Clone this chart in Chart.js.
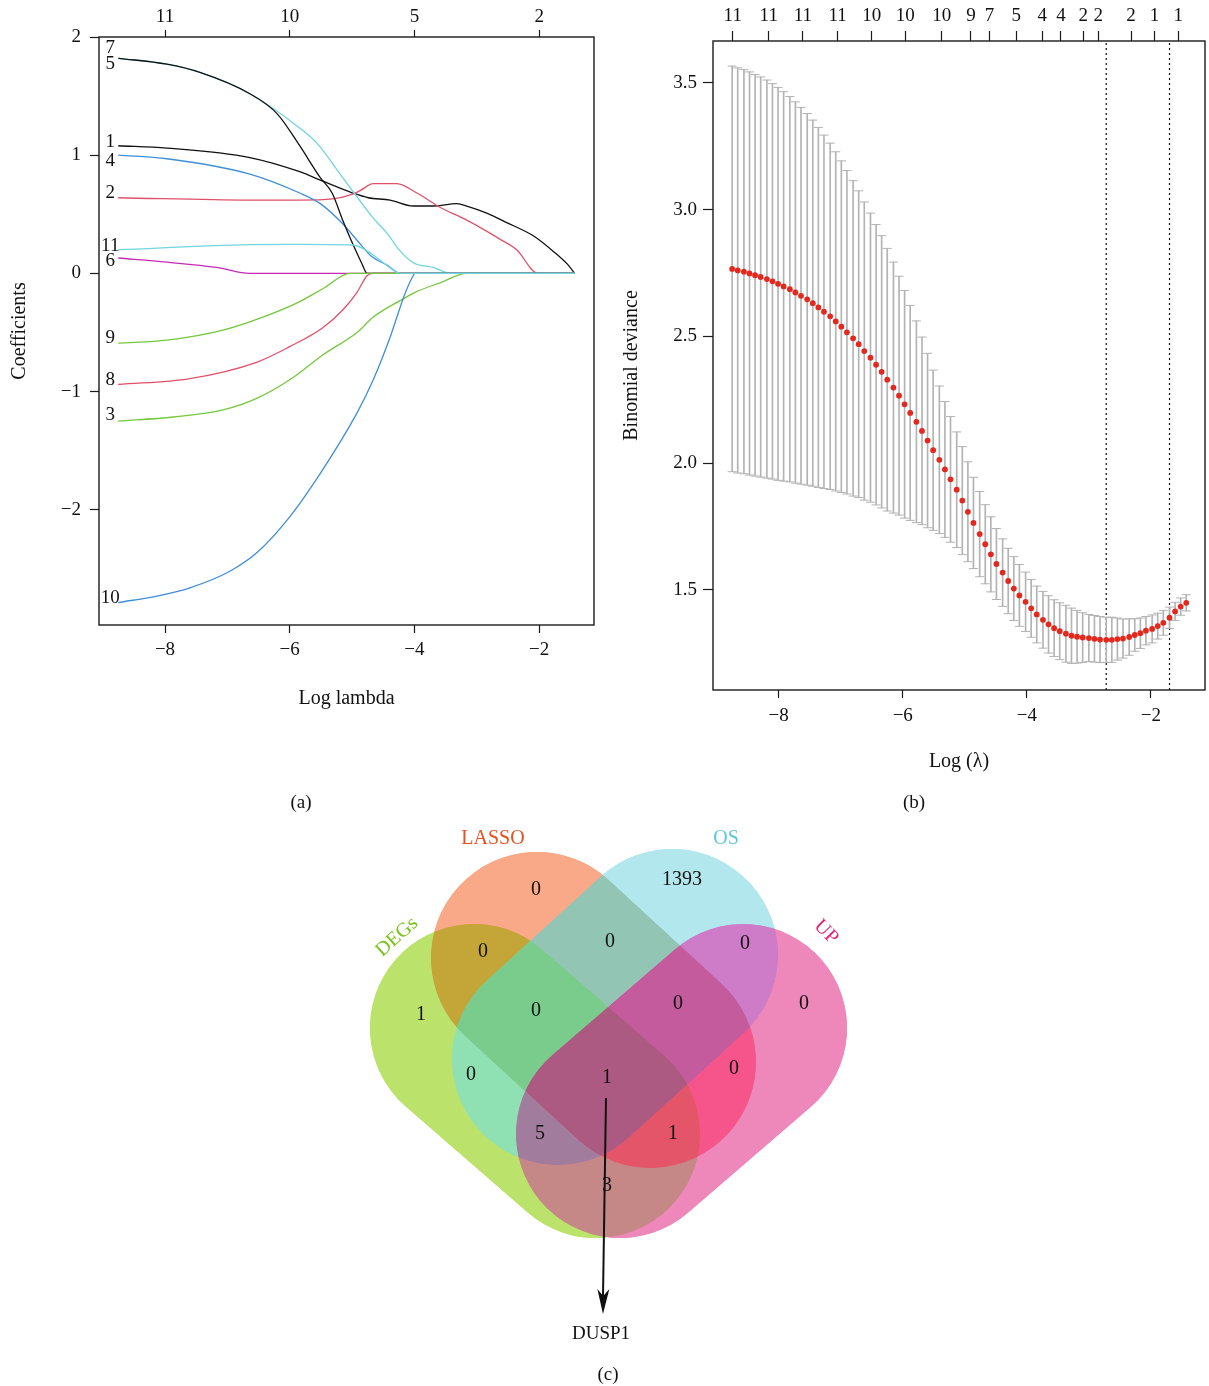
<!DOCTYPE html>
<html>
<head>
<meta charset="utf-8">
<script src="https://cdn.jsdelivr.net/npm/chart.js@4.4.1/dist/chart.umd.min.js"></script>
<style>
  html, body { margin: 0; padding: 0; background: #fff; }
  #page { position: relative; width: 1209px; height: 1386px; overflow: hidden;
          font-family: 'Liberation Serif', 'Times New Roman', serif; color: #111; }
  canvas { position: absolute; }
  .cap { position: absolute; font-size: 19px; transform: translate(-50%, -50%); white-space: nowrap; }
</style>
</head>
<body>
<div id="page">
  <canvas id="chartA" width="604" height="790" style="left:0;top:0"></canvas>
  <canvas id="chartB" width="605" height="790" style="left:604px;top:0"></canvas>
  <canvas id="chartC" width="620" height="576" style="left:300px;top:810px"></canvas>
  <div class="cap" style="left:301px;top:802px">(a)</div>
  <div class="cap" style="left:914px;top:802px">(b)</div>
  <div class="cap" style="left:608px;top:1374px">(c)</div>
</div>
<script>
// ---------------- (a) LASSO coefficient paths: [log lambda, coefficient] ----------------
const coefVars = ['1', '2', '3', '4', '5', '6', '7', '8', '9', '10', '11'];
const path1 = [[-8.75,1.08],[-7.97,1.06],[-6.64,0.98],[-5.84,0.86],[-5.47,0.78],[-4.99,0.68],[-4.74,0.64],[-4.39,0.62],[-4.02,0.57],[-3.70,0.57],[-3.32,0.59],[-3.16,0.57],[-2.84,0.51],[-2.52,0.43],[-2.10,0.32],[-1.78,0.19],[-1.55,0.08],[-1.43,0]];
const path2 = [[-8.75,0.64],[-6.64,0.62],[-5.84,0.62],[-5.31,0.63],[-4.99,0.67],[-4.87,0.70],[-4.66,0.76],[-4.28,0.76],[-3.96,0.68],[-3.59,0.56],[-3.16,0.45],[-2.63,0.29],[-2.36,0.20],[-2.02,0],[-1.43,0]];
const path3 = [[-8.75,-1.25],[-7.87,-1.215],[-7.07,-1.155],[-6.52,-1.055],[-6.00,-0.90],[-5.47,-0.69],[-4.92,-0.50],[-4.66,-0.37],[-4.23,-0.23],[-3.99,-0.16],[-3.59,-0.08],[-3.16,0],[-1.43,0]];
const path4 = [[-8.75,1.00],[-7.97,0.97],[-6.64,0.84],[-5.84,0.68],[-5.51,0.59],[-5.15,0.42],[-4.92,0.28],[-4.68,0.14],[-4.44,0.07],[-4.23,0],[-1.43,0]];
const path5 = [[-8.75,1.82],[-7.97,1.77],[-7.44,1.70],[-6.64,1.52],[-5.84,1.23],[-5.56,1.10],[-5.15,0.81],[-4.91,0.64],[-4.68,0.48],[-4.44,0.34],[-4.23,0.19],[-4.02,0.09],[-3.70,0.05],[-3.40,0],[-1.43,0]];
const path6 = [[-8.75,0.13],[-7.97,0.095],[-7.17,0.05],[-6.64,0],[-1.43,0]];
const path7 = [[-8.75,1.82],[-7.97,1.77],[-7.44,1.70],[-6.64,1.52],[-6.20,1.35],[-5.84,1.08],[-5.51,0.81],[-5.32,0.68],[-5.15,0.45],[-4.99,0.25],[-4.84,0.08],[-4.76,0],[-1.43,0]];
const path8 = [[-8.75,-0.94],[-7.60,-0.89],[-6.52,-0.75],[-6.00,-0.62],[-5.47,-0.46],[-5.15,-0.31],[-4.92,-0.16],[-4.76,-0.02],[-4.66,0],[-1.43,0]];
const path9 = [[-8.75,-0.59],[-7.97,-0.565],[-7.07,-0.48],[-6.43,-0.37],[-5.88,-0.25],[-5.47,-0.13],[-5.03,0],[-1.43,0]];
const path10 = [[-8.75,-2.785],[-8.13,-2.73],[-7.60,-2.66],[-6.96,-2.52],[-6.52,-2.36],[-6.00,-2.06],[-5.47,-1.66],[-4.92,-1.18],[-4.66,-0.90],[-4.39,-0.54],[-4.15,-0.17],[-4.02,-0.02],[-3.99,0],[-1.43,0]];
const path11 = [[-8.75,0.20],[-6.64,0.243],[-5.84,0.245],[-4.99,0.24],[-4.76,0.19],[-4.47,0.08],[-4.23,0],[-1.43,0]];
const coefPaths = [path1, path2, path3, path4, path5, path6, path7, path8, path9, path10, path11];

const ticksA = [-8, -6, -4, -2];
const dfTopA = ['11', '10', '5', '2'];
const coefTicks = [-2, -1, 0, 1, 2];

// ---------------- (b) cross-validation curve ----------------
const logLambda = [
  -8.75, -8.66, -8.56, -8.47, -8.38, -8.29, -8.19, -8.10, -8.01, -7.92,
  -7.82, -7.73, -7.64, -7.54, -7.45, -7.36, -7.27, -7.17, -7.08, -6.99,
  -6.90, -6.80, -6.71, -6.62, -6.52, -6.43, -6.34, -6.25, -6.15, -6.06,
  -5.97, -5.88, -5.78, -5.69, -5.60, -5.51, -5.41, -5.32, -5.23, -5.13,
  -5.04, -4.95, -4.86, -4.76, -4.67, -4.58, -4.49, -4.39, -4.30, -4.21,
  -4.12, -4.02, -3.93, -3.84, -3.74, -3.65, -3.56, -3.47, -3.37, -3.28,
  -3.19, -3.10, -3.00, -2.91, -2.82, -2.72, -2.63, -2.54, -2.45, -2.35,
  -2.26, -2.17, -2.08, -1.98, -1.89, -1.80, -1.70, -1.61, -1.52, -1.43
];
const cvMean = [
  2.766, 2.760, 2.755, 2.748, 2.741, 2.734, 2.726, 2.717, 2.707, 2.697,
  2.686, 2.673, 2.660, 2.646, 2.631, 2.614, 2.597, 2.579, 2.559, 2.538,
  2.516, 2.492, 2.469, 2.442, 2.416, 2.388, 2.360, 2.329, 2.298, 2.266,
  2.232, 2.198, 2.163, 2.127, 2.089, 2.051, 2.013, 1.975, 1.936, 1.895,
  1.852, 1.808, 1.764, 1.720, 1.680, 1.640, 1.602, 1.568, 1.535, 1.505,
  1.478, 1.453, 1.427, 1.403, 1.382, 1.364, 1.349, 1.337, 1.327, 1.319,
  1.315, 1.312, 1.310, 1.307, 1.304, 1.303, 1.303, 1.306, 1.308, 1.314,
  1.322, 1.329, 1.339, 1.346, 1.357, 1.370, 1.390, 1.415, 1.434, 1.449
];
const cvSd = [
  0.800, 0.799, 0.797, 0.795, 0.792, 0.789, 0.785, 0.780, 0.775, 0.768,
  0.760, 0.752, 0.743, 0.733, 0.722, 0.710, 0.697, 0.683, 0.669, 0.654,
  0.638, 0.622, 0.605, 0.588, 0.570, 0.553, 0.537, 0.518, 0.495, 0.471,
  0.449, 0.424, 0.398, 0.370, 0.344, 0.316, 0.291, 0.268, 0.248, 0.228,
  0.213, 0.197, 0.180, 0.168, 0.156, 0.148, 0.140, 0.133, 0.129, 0.126,
  0.122, 0.117, 0.114, 0.112, 0.112, 0.113, 0.112, 0.112, 0.112, 0.109,
  0.104, 0.098, 0.093, 0.092, 0.091, 0.089, 0.089, 0.083, 0.077, 0.072,
  0.064, 0.060, 0.056, 0.055, 0.051, 0.049, 0.042, 0.036, 0.034, 0.032
];
const lambdaMin = -2.72;
const lambda1se = -1.70;
const nzAt = [-8.74, -8.16, -7.61, -7.05, -6.50, -5.96, -5.37, -4.90, -4.60, -4.17, -3.75, -3.45, -3.09, -2.85, -2.32, -1.94, -1.56];
const nzLabels = ['11', '11', '11', '11', '10', '10', '10', '9', '7', '5', '4', '4', '2', '2', '2', '1', '1'];
const devTicks = [1.5, 2.0, 2.5, 3.0, 3.5];

// ---------------- (c) Venn counts ----------------
const setNames = ['DEGs', 'LASSO', 'OS', 'UP'];
const regionNames = ['DEGs', 'LASSO', 'OS', 'UP', 'DEGs&LASSO', 'LASSO&OS', 'OS&UP', 'DEGs&OS', 'LASSO&UP',
  'DEGs&LASSO&OS', 'LASSO&OS&UP', 'DEGs&LASSO&OS&UP', 'DEGs&OS&UP', 'DEGs&LASSO&UP', 'DEGs&UP'];
const regionCounts = [1, 0, 1393, 0, 0, 0, 0, 0, 0, 0, 0, 1, 5, 1, 3];
const hubGene = 'DUSP1';

// ---------------- styling / layout ----------------
const SERIF = "'Liberation Serif', 'Times New Roman', serif";
Chart.defaults.font.family = SERIF;
Chart.defaults.font.size = 19;
Chart.defaults.color = '#111';
Chart.defaults.animation = false;
Chart.defaults.events = [];

const INK = '#1a1a1a';
const varColors = ['#111111', '#e0506a', '#74c83c', '#3f8fd8', '#6fd6e0', '#c42ab4',
                   '#111111', '#e0506a', '#74c83c', '#3f8fd8', '#6fd6e0'];
const varLabelNudge = { '7': -10, '5': 6, '1': -4, '4': 6, '2': -5, '11': -4, '6': 3, '9': -5, '8': -4, '3': -6, '10': -5 };

const minus = v => (v < 0 ? '\u2212' + Math.abs(v) : String(v));
const fixTicks = arr => scale => { scale.ticks = arr.map(v => ({ value: v })); };

function axisGrid(len) {
  return { drawOnChartArea: false, drawTicks: true, tickLength: len, tickColor: INK, tickWidth: 1.2, offset: false };
}

// box round the plot area, like R's box()
const boxPlugin = {
  id: 'box',
  afterDraw(chart) {
    const { ctx, chartArea: a } = chart;
    ctx.save();
    ctx.strokeStyle = INK;
    ctx.lineWidth = 1.4;
    ctx.strokeRect(a.left, a.top, a.right - a.left, a.bottom - a.top);
    ctx.restore();
  }
};

// variable numbers at the left end of each path
const varLabelPlugin = {
  id: 'varLabels',
  afterDatasetsDraw(chart) {
    const { ctx, scales: { x, y } } = chart;
    ctx.save();
    ctx.font = '19px ' + SERIF;
    ctx.fillStyle = '#111';
    ctx.textAlign = 'center';
    ctx.textBaseline = 'middle';
    coefPaths.forEach((p, k) => {
      const name = coefVars[k];
      const px = x.getPixelForValue(p[0][0]) - 8;
      const py = y.getPixelForValue(p[0][1]) + (varLabelNudge[name] || 0);
      ctx.fillText(name, px, py);
    });
    ctx.restore();
  }
};

new Chart(document.getElementById('chartA'), {
  type: 'scatter',
  data: {
    datasets: coefPaths.map((p, k) => ({
      label: coefVars[k],
      data: p.map(([lx, c]) => ({ x: lx, y: c })),
      showLine: true,
      pointRadius: 0,
      borderWidth: 1.3,
      borderColor: varColors[k],
      cubicInterpolationMode: 'monotone',
      order: coefPaths.length - k
    }))
  },
  options: {
    responsive: false,
    layout: { padding: { left: 0, top: 0, right: 10, bottom: 0 } },
    plugins: { legend: { display: false }, tooltip: { enabled: false } },
    scales: {
      x: {
        type: 'linear', position: 'bottom', min: -9.0585, max: -1.12,
        afterBuildTicks: fixTicks(ticksA),
        afterFit: s => { s.height = 790 - 625; },
        grid: axisGrid(8), border: { display: false },
        ticks: { callback: v => minus(v), padding: 5.6, autoSkip: false, maxRotation: 0, color: '#111' },
        title: { display: true, text: 'Log lambda', font: { size: 20 }, padding: { top: 0, bottom: 79 }, color: '#111' }
      },
      x2: {
        type: 'linear', position: 'top', min: -9.0585, max: -1.12,
        afterBuildTicks: fixTicks(ticksA),
        afterFit: s => { s.height = 37; },
        grid: axisGrid(7), border: { display: false },
        ticks: { callback: (v, i) => dfTopA[i], padding: 1.6, autoSkip: false, maxRotation: 0, color: '#111' }
      },
      y: {
        type: 'linear', position: 'left', min: -2.975, max: 2.0, beginAtZero: false,
        afterBuildTicks: fixTicks(coefTicks),
        afterFit: s => { s.width = 99; },
        grid: axisGrid(9), border: { display: false },
        ticks: { callback: v => minus(v), padding: 9, autoSkip: false, color: '#111' },
        title: { display: true, text: 'Coefficients', font: { size: 20 }, padding: { top: 8, bottom: 0 }, color: '#111' }
      }
    }
  },
  plugins: [boxPlugin, varLabelPlugin]
});

// ---------------- (b) ----------------
const cvUpper = cvMean.map((m, i) => m + cvSd[i]);
const cvLower = cvMean.map((m, i) => m - cvSd[i]);
const yMinB = 1.105, yMaxB = 3.665;
const capHalf = 0.073; // glmnet error.bars width = 1% of the log-lambda range

const capRadius = ctx => {
  const s = ctx.chart.scales.x;
  return Math.abs(s.getPixelForValue(capHalf) - s.getPixelForValue(0));
};
const barGrey = '#b3b3b3';

new Chart(document.getElementById('chartB'), {
  type: 'scatter',
  data: {
    datasets: [
      {
        label: 'cvm', order: 0,
        data: logLambda.map((lx, i) => ({ x: lx, y: cvMean[i] })),
        pointRadius: 2.9, pointBackgroundColor: '#e4281d', pointBorderWidth: 0
      },
      {
        label: 'upper', order: 1, pointStyle: 'line',
        data: logLambda.map((lx, i) => ({ x: lx, y: cvUpper[i] })),
        pointRadius: capRadius, pointBorderColor: barGrey, pointBorderWidth: 1
      },
      {
        label: 'lower', order: 1, pointStyle: 'line',
        data: logLambda.map((lx, i) => ({ x: lx, y: cvLower[i] })),
        pointRadius: capRadius, pointBorderColor: barGrey, pointBorderWidth: 1
      },
      {
        type: 'bar', label: 'sd', order: 2, grouped: false,
        data: logLambda.map((lx, i) => ({ x: lx, y: [cvLower[i], cvUpper[i]] })),
        barThickness: 1, backgroundColor: barGrey, borderWidth: 0
      },
      {
        label: 'lambda.min', order: 3, showLine: true, pointRadius: 0,
        data: [{ x: lambdaMin, y: yMinB }, { x: lambdaMin, y: yMaxB }],
        borderColor: '#111', borderWidth: 1.2, borderDash: [2, 3]
      },
      {
        label: 'lambda.1se', order: 3, showLine: true, pointRadius: 0,
        data: [{ x: lambda1se, y: yMinB }, { x: lambda1se, y: yMaxB }],
        borderColor: '#111', borderWidth: 1.2, borderDash: [2, 3]
      }
    ]
  },
  options: {
    responsive: false,
    layout: { padding: { left: 0, top: 0, right: 1.5, bottom: 0 } },
    plugins: { legend: { display: false }, tooltip: { enabled: false } },
    scales: {
      x: {
        type: 'linear', position: 'bottom', min: -9.0585, max: -1.128, offset: false,
        afterBuildTicks: fixTicks(ticksA),
        afterFit: s => { s.height = 790 - 690; },
        grid: axisGrid(8), border: { display: false },
        ticks: { callback: v => minus(v), padding: 6.6, autoSkip: false, maxRotation: 0, color: '#111' },
        title: { display: true, text: 'Log (\u03bb)', font: { size: 20 }, padding: { top: 0, bottom: 16 }, color: '#111' }
      },
      x2: {
        type: 'linear', position: 'top', min: -9.0585, max: -1.128, offset: false,
        afterBuildTicks: fixTicks(nzAt),
        afterFit: s => { s.height = 41; },
        grid: axisGrid(10), border: { display: false },
        ticks: { callback: (v, i) => nzLabels[i], padding: 3.6, autoSkip: false, maxRotation: 0, color: '#111' }
      },
      y: {
        type: 'linear', position: 'left', min: yMinB, max: yMaxB, beginAtZero: false,
        afterBuildTicks: fixTicks(devTicks),
        afterFit: s => { s.width = 109; },
        grid: axisGrid(10), border: { display: false },
        ticks: { callback: v => v.toFixed(1), padding: 6, autoSkip: false, color: '#111' },
        title: { display: true, text: 'Binomial deviance', font: { size: 20 }, padding: { top: 16, bottom: 0 }, color: '#111' }
      }
    }
  },
  plugins: [boxPlugin]
});

// ---------------- (c) Venn diagram ----------------
// each set is a rounded capsule between two end centres (page coordinates)
const vennShapes = [
  { p1: [474, 1028], p2: [596, 1134], r: 104, fill: 'rgba(140,208,7,0.6)' },
  { p1: [537, 958], p2: [650, 1062], r: 106, fill: 'rgba(245,110,52,0.6)' },
  { p1: [672, 955], p2: [558, 1059], r: 106, fill: 'rgba(127,215,227,0.6)' },
  { p1: [743, 1028], p2: [620, 1134], r: 104, fill: 'rgba(225,57,138,0.6)' }
];
// colour of each region as it appears in the figure (same order as regionNames)
const regionColors = ['#bbe36b', '#f9a987', '#b2e7ee', '#ee88ba', '#c4a537', '#93c5b4', '#ce7cc8', '#8fe0b2',
  '#f5558a', '#79cc8b', '#c35b9d', '#ad5a82', '#a27c9c', '#e5556a', '#c68787'];
const setLabelStyle = [
  { at: [397, 937], rot: -42, color: '#79c218' },
  { at: [493, 839], rot: 0, color: '#e8501e' },
  { at: [726, 839], rot: 0, color: '#5ec9d4' },
  { at: [826, 932], rot: 45, color: '#e21f78' }
];
const regionLabelAt = [[421, 1015], [536, 890], [682, 880], [804, 1004], [483, 952], [610, 942], [745, 944],
  [471, 1075], [734, 1069], [536, 1011], [678, 1004], [607, 1078], [540, 1134], [673, 1134], [607, 1186]];
const arrowFrom = [606, 1098], arrowTip = [603, 1314], hubAt = [601, 1334];

function addCapsule(ctx, x, y, s) {
  const x1 = x.getPixelForValue(s.p1[0]), y1 = y.getPixelForValue(s.p1[1]);
  const x2 = x.getPixelForValue(s.p2[0]), y2 = y.getPixelForValue(s.p2[1]);
  const r = Math.abs(x.getPixelForValue(s.p1[0] + s.r) - x1);
  const a = Math.atan2(y2 - y1, x2 - x1);
  ctx.moveTo(x1 + r * Math.cos(a + Math.PI / 2), y1 + r * Math.sin(a + Math.PI / 2));
  ctx.arc(x1, y1, r, a + Math.PI / 2, a + 3 * Math.PI / 2);
  ctx.arc(x2, y2, r, a - Math.PI / 2, a + Math.PI / 2);
  ctx.closePath();
}

const vennPlugin = {
  id: 'venn',
  beforeDatasetsDraw(chart) {
    const { ctx, width, height, scales: { x, y } } = chart;
    ctx.save();
    // translucent sets first (gives the blended look along the seams)
    vennShapes.forEach(s => {
      ctx.beginPath();
      addCapsule(ctx, x, y, s);
      ctx.fillStyle = s.fill;
      ctx.fill();
    });
    // then each region in its own colour
    regionNames.forEach((rn, i) => {
      const members = rn.split('&');
      ctx.save();
      setNames.forEach((name, k) => {
        const inside = members.includes(name);
        ctx.beginPath();
        if (!inside) ctx.rect(-10, -10, width + 20, height + 20);
        addCapsule(ctx, x, y, vennShapes[k]);
        ctx.clip(inside ? 'nonzero' : 'evenodd');
      });
      ctx.fillStyle = regionColors[i];
      ctx.fillRect(0, 0, width, height);
      ctx.restore();
    });
    ctx.restore();
  },
  afterDatasetsDraw(chart) {
    const { ctx, scales: { x, y } } = chart;
    ctx.save();
    ctx.textAlign = 'center';
    ctx.textBaseline = 'middle';
    ctx.font = '20px ' + SERIF;
    ctx.fillStyle = '#111';
    regionCounts.forEach((n, i) => {
      ctx.fillText(String(n), x.getPixelForValue(regionLabelAt[i][0]), y.getPixelForValue(regionLabelAt[i][1]));
    });
    setNames.forEach((name, i) => {
      const st = setLabelStyle[i];
      ctx.save();
      ctx.translate(x.getPixelForValue(st.at[0]), y.getPixelForValue(st.at[1]));
      ctx.rotate(st.rot * Math.PI / 180);
      ctx.fillStyle = st.color;
      ctx.fillText(name, 0, 0);
      ctx.restore();
    });
    // arrow head
    const tx = x.getPixelForValue(arrowTip[0]), ty = y.getPixelForValue(arrowTip[1]);
    const fx = x.getPixelForValue(arrowFrom[0]), fy = y.getPixelForValue(arrowFrom[1]);
    const ang = Math.atan2(ty - fy, tx - fx);
    ctx.save();
    ctx.translate(tx, ty);
    ctx.rotate(ang);
    ctx.beginPath();
    ctx.moveTo(0, 0);
    ctx.lineTo(-25, -6);
    ctx.lineTo(-18, 0);
    ctx.lineTo(-25, 6);
    ctx.closePath();
    ctx.fillStyle = '#111';
    ctx.fill();
    ctx.restore();
    ctx.fillStyle = '#111';
    ctx.font = '19px ' + SERIF;
    ctx.fillText(hubGene, x.getPixelForValue(hubAt[0]), y.getPixelForValue(hubAt[1]));
    ctx.restore();
  }
};

new Chart(document.getElementById('chartC'), {
  type: 'scatter',
  data: {
    datasets: [{
      label: 'arrow', showLine: true, pointRadius: 0, borderColor: '#111', borderWidth: 2,
      data: [{ x: arrowFrom[0], y: arrowFrom[1] }, { x: arrowTip[0], y: arrowTip[1] - 18 }]
    }]
  },
  options: {
    responsive: false,
    layout: { padding: 0 },
    plugins: { legend: { display: false }, tooltip: { enabled: false } },
    scales: {
      x: { type: 'linear', min: 300, max: 920, display: false },
      y: { type: 'linear', min: 810, max: 1386, reverse: true, display: false }
    }
  },
  plugins: [vennPlugin]
});
</script>
</body>
</html>
